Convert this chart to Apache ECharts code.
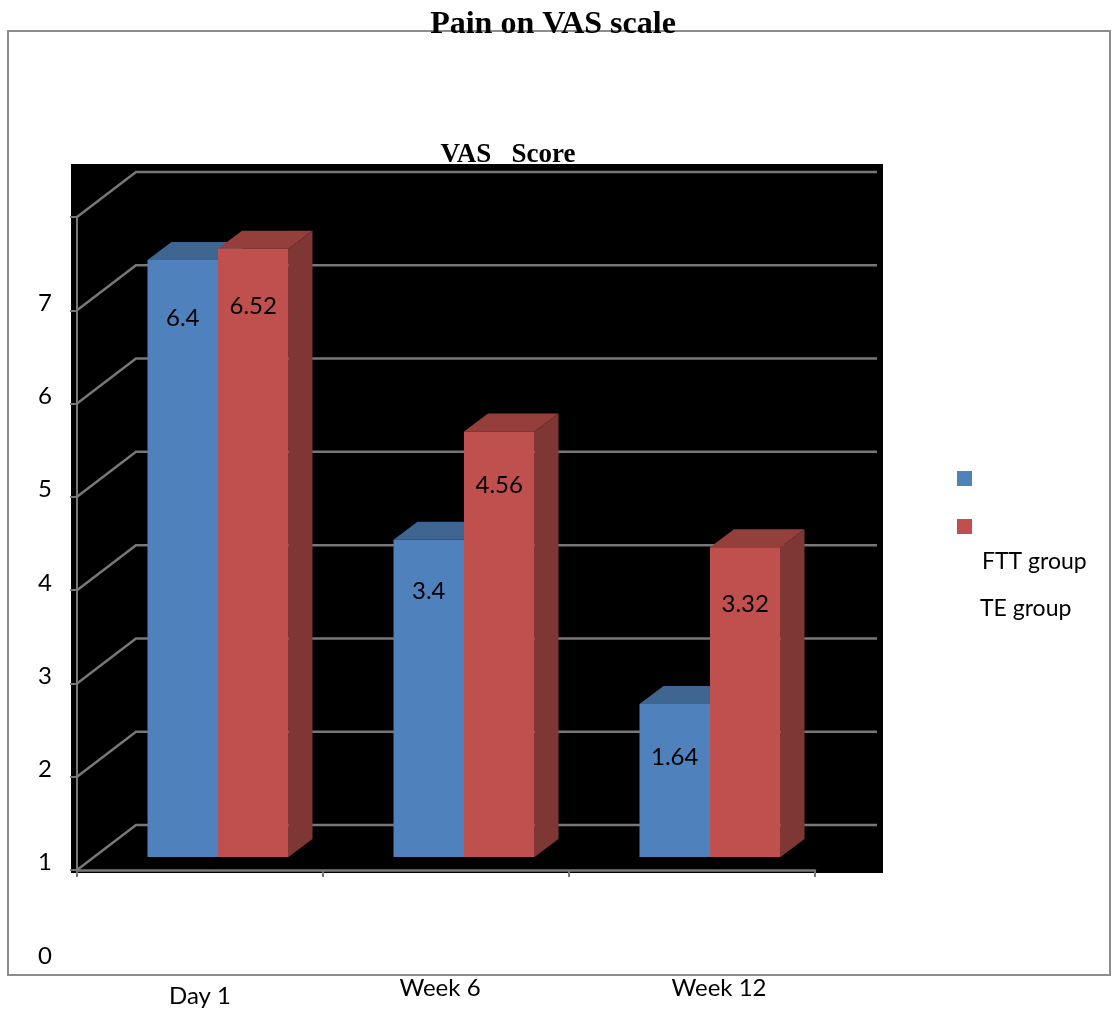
<!DOCTYPE html>
<html>
<head>
<meta charset="utf-8">
<script src="https://cdn.jsdelivr.net/npm/echarts@6/dist/echarts.min.js"></script>
<style>
    html, body { margin: 0; padding: 0; background: #fff; }
    #chart { width: 1112px; height: 1011px; }
</style>
</head>
<body>
<div id="chart"></div>
<script>
    const categories = ["Day 1", "Week 6", "Week 12"];
    const seriesNames = ["FTT group", "TE group"];
    const fttValues = [6.4, 3.4, 1.64];
    const teValues = [6.52, 4.56, 3.32];
    const yTicks = [0, 1, 2, 3, 4, 5, 6, 7];

    const labelFont = "Lato";
    const titleFont = "Liberation Serif";
    const lineGrey = "#777777";

    // wall / floor depth of the fake 3D box
    const wallDx = 59, wallDy = -45, wallRight = 877;
    // bars stand a bit behind the front plane
    const barDx = 18, barDy = -13, barW = 70.5, sideDx = 24, sideDy = -18;

    // px from bar top to the centre of its value label
    const fttLabelDrop = [58, 51, 53];
    const teLabelDrop = [57, 54, 57];

    // the category labels sit off their ticks in the original
    const catShiftX = [0, -6, 27];
    const catShiftY = [8, 0, 0];

    function renderWall(params, api) {
        let p = api.coord([0, api.value(1)]);
        let x0 = params.coordSys.x;
        let y0 = p[1];
        let style = { stroke: lineGrey, lineWidth: 2.5, fill: null };
        return {
            type: "polyline",
            shape: { points: [[x0, y0], [x0 + wallDx, y0 + wallDy], [wallRight, y0 + wallDy]] },
            style: style
        };
    }

    function barRenderer(side, colors, drops) {
        return function (params, api) {
            let idx = api.value(0);
            let c = api.coord([idx, 0]);
            let top = api.coord([idx, api.value(1)])[1] + barDy;
            let base = c[1] + barDy;
            let left = c[0] + barDx + (side === 0 ? -barW : 0);
            let right = left + barW;
            return {
                type: "group",
                children: [
                    {
                        type: "polygon",
                        shape: { points: [[left, top], [right, top], [right + sideDx, top + sideDy], [left + sideDx, top + sideDy]] },
                        style: { fill: colors.top }
                    },
                    {
                        type: "polygon",
                        shape: { points: [[right, top], [right + sideDx, top + sideDy], [right + sideDx, base + sideDy], [right, base]] },
                        style: { fill: colors.side }
                    },
                    {
                        type: "rect",
                        shape: { x: left, y: top, width: barW, height: base - top },
                        style: { fill: colors.front }
                    },
                    {
                        type: "text",
                        style: {
                            x: left + barW / 2,
                            y: top + drops[idx],
                            text: String(api.value(1)),
                            align: "center",
                            verticalAlign: "middle",
                            fill: "#000",
                            font: "24px " + labelFont
                        }
                    }
                ]
            };
        };
    }

    let catRich = {};
    categories.forEach((c, i) => {
        catRich["c" + i] = {
            fontFamily: labelFont,
            fontSize: 24,
            color: "#000",
            padding: [catShiftY[i], Math.max(-catShiftX[i] * 2, 0), 0, Math.max(catShiftX[i] * 2, 0)]
        };
    });

    let chart = echarts.init(document.getElementById("chart"));

    let option = {
        animation: false,
        backgroundColor: "#fff",
        color: ["#4f81bd", "#c0504d"],
        title: [
            {
                text: "Pain on VAS scale",
                left: 553,
                top: 9,
                padding: 0,
                textAlign: "center",
                textStyle: { fontFamily: titleFont, fontWeight: "bold", fontSize: 32, color: "#000" }
            },
            {
                text: "VAS   Score",
                left: 508,
                top: 142,
                padding: 0,
                textAlign: "center",
                textStyle: { fontFamily: titleFont, fontWeight: "bold", fontSize: 27, color: "#000" }
            }
        ],
        legend: {
            data: seriesNames,
            icon: "rect",
            orient: "vertical",
            left: 957,
            top: 471,
            padding: 0,
            itemWidth: 15,
            itemHeight: 15,
            itemGap: 33,
            formatter: () => " ",
            selectedMode: false,
            textStyle: { fontSize: 12, lineHeight: 15 }
        },
        grid: { left: 77, right: 297, top: 217, bottom: 141, outerBoundsMode: "none" },
        xAxis: {
            type: "category",
            data: categories,
            axisLine: { lineStyle: { color: lineGrey, width: 2.5 } },
            axisTick: { show: true, alignWithLabel: false, length: 7, lineStyle: { color: lineGrey, width: 2 } },
            axisLabel: {
                margin: 106,
                interval: 0,
                formatter: (value, i) => "{c" + i + "|" + value + "}",
                rich: catRich
            }
        },
        yAxis: {
            type: "value",
            min: 0,
            max: 7,
            interval: 1,
            splitLine: { show: false },
            axisLine: { show: true, lineStyle: { color: lineGrey, width: 2 } },
            axisTick: { show: true, length: 7, lineStyle: { color: lineGrey, width: 2 } },
            axisLabel: {
                margin: 25,
                showMinLabel: true,
                showMaxLabel: true,
                formatter: "{v|{value}}",
                rich: {
                    v: { fontFamily: labelFont, fontSize: 24, color: "#000", padding: [172, 0, 0, 0] }
                }
            }
        },
        graphic: [
            {
                type: "rect",
                z: -2,
                shape: { x: 8, y: 31, width: 1102, height: 944 },
                style: { fill: "#fff", stroke: "#8c8c8c", lineWidth: 2 }
            },
            {
                type: "rect",
                z: -1,
                shape: { x: 71, y: 164, width: 812, height: 709 },
                style: { fill: "#000" }
            },
            {
                type: "text",
                z: 5,
                x: 982,
                y: 562,
                style: { text: seriesNames[0], fill: "#000", font: "23px " + labelFont, verticalAlign: "middle" }
            },
            {
                type: "text",
                z: 5,
                x: 980,
                y: 609,
                style: { text: seriesNames[1], fill: "#000", font: "23px " + labelFont, verticalAlign: "middle" }
            }
        ],
        series: [
            {
                name: "walls",
                type: "custom",
                renderItem: renderWall,
                data: yTicks.map(v => [0, v]),
                silent: true,
                z: 1
            },
            {
                name: seriesNames[0],
                type: "custom",
                renderItem: barRenderer(0, { front: "#4f81bd", top: "#3e6691", side: "#3e6691" }, fttLabelDrop),
                data: fttValues.map((v, i) => [i, v]),
                itemStyle: { color: "#4f81bd" },
                z: 2
            },
            {
                name: seriesNames[1],
                type: "custom",
                renderItem: barRenderer(1, { front: "#c0504d", top: "#943f3c", side: "#7e3734" }, teLabelDrop),
                data: teValues.map((v, i) => [i, v]),
                itemStyle: { color: "#c0504d" },
                z: 3
            }
        ]
    };

    chart.setOption(option);
</script>
</body>
</html>
